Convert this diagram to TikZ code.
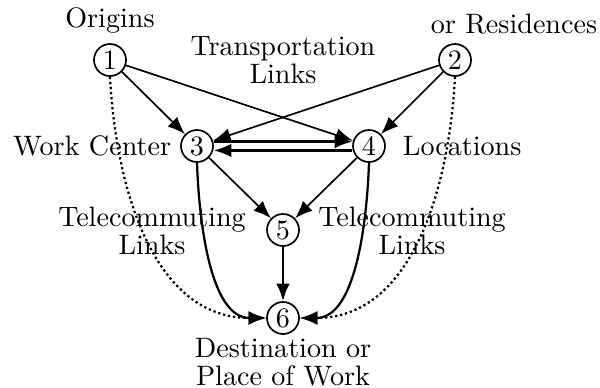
\documentclass[tikz,border=0pt]{standalone}
\usetikzlibrary{arrows.meta}

\begin{document}
\begin{tikzpicture}[x=0.0125cm, y=-0.0125cm, >={Latex[length=2.2mm, width=1.7mm]},
  stn/.style={circle, draw, semithick, minimum size=0.4cm, inner sep=0pt},
  lbl/.style={align=center}]

\useasboundingbox (0,0) rectangle (600,387);

% 节点：起点、工作中心、远程办公、目的地
\node[stn] (n1) at (110, 60) {1};
\node[stn] (n2) at (455, 60) {2};
\node[stn] (n3) at (197,146) {3};
\node[stn] (n4) at (369,146) {4};
\node[stn] (n5) at (283,230) {5};
\node[stn] (n6) at (283,318) {6};

% 文字标注
\node (tOrig) at (110, 20) {Origins};
\node (tRes) at (514, 24) {or Residences};
\node[lbl] (tTrans) at (283, 60) {Transportation\\[-2pt] Links};
\node[anchor=east] (tWork) at (181,146) {Work Center};
\node[anchor=west] (tLoc) at (393,146) {Locations};
\node[lbl] (tTelL) at (152,231) {Telecommuting\\[-2pt] Links};
\node[lbl] (tTelR) at (412,231) {Telecommuting\\[-2pt] Links};
\node[lbl] (tDest) at (283,362) {Destination or\\[-2pt] Place of Work};

% 交通连线
\draw[->, semithick] (n1) -- (n3);
\draw[->, semithick] (n1) -- (n4);
\draw[->, semithick] (n2) -- (n3);
\draw[->, semithick] (n2) -- (n4);
\draw[->, thick] ([yshift=0.055cm]n3.east) -- ([yshift=0.055cm]n4.west);
\draw[->, thick] ([yshift=-0.055cm]n4.west) -- ([yshift=-0.055cm]n3.east);
\draw[->, semithick] (n3) -- (n5);
\draw[->, semithick] (n4) -- (n5);
\draw[->, thick] (n5) -- (n6);

% 远程办公连线（曲线）
\draw[->, thick] (n3.south) to[out=-88, in=180, looseness=0.85] (n6.west);
\draw[->, thick] (n4.south) to[out=-92, in=0, looseness=0.85] (n6.east);
\draw[->, thick, densely dotted] (n1.south) to[out=-87, in=180] (n6.west);
\draw[->, thick, densely dotted] (n2.south) to[out=-93, in=0] (n6.east);

\end{tikzpicture}
\end{document}
